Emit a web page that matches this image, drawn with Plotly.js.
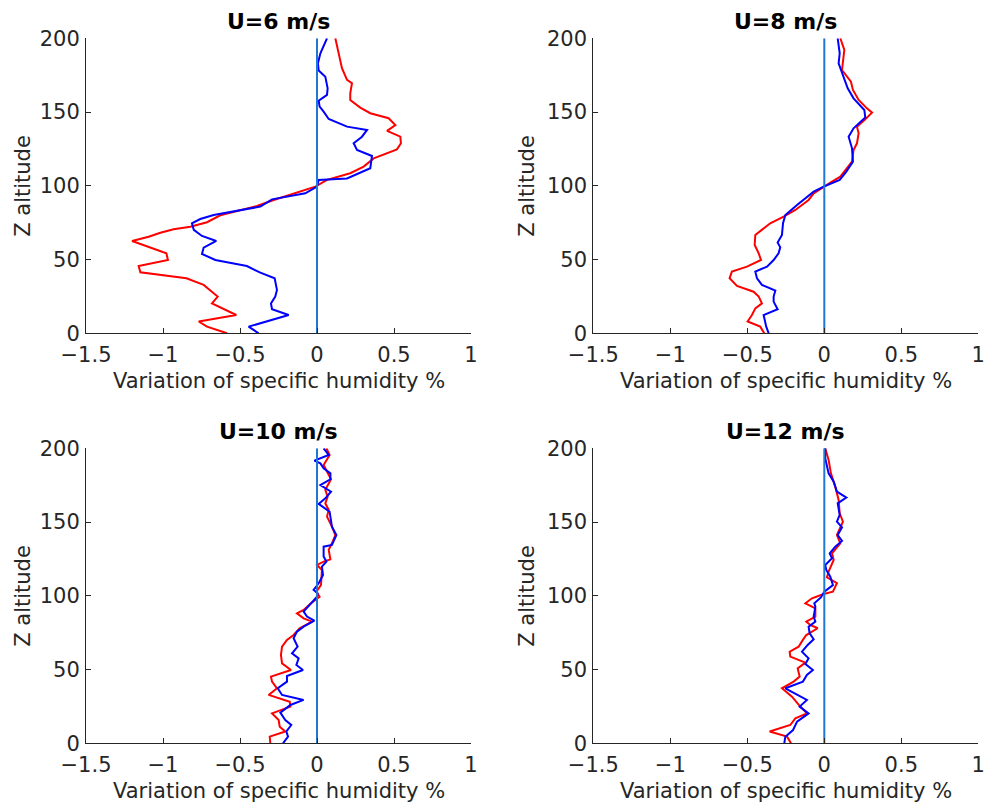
<!DOCTYPE html>
<html>
<head>
<meta charset="utf-8">
<script src="https://cdn.plot.ly/plotly-3.0.1.min.js"></script>
<style>html,body{margin:0;padding:0;background:#fff}#chart{width:987px;height:806px}</style>
</head>
<body>
<div id="chart"></div>
<script>
// ---------- data ----------
const panelTitles = ["U=6 m/s", "U=8 m/s", "U=10 m/s", "U=12 m/s"];
const xTickVals = [-1.5, -1, -0.5, 0, 0.5, 1];
const yTickVals = [0, 50, 100, 150, 200];
const xAxisLabel = "Variation of specific humidity %";
const yAxisLabel = "Z altitude";
const refX = [0, 0];
const refZ = [0, 200];

// U=6 m/s
const z6red = [0,4.5,8,12.4,20.3,24.9,32.8,37.3,41.4,45.6,49.7,54.2,62.6,65.5,68.2,70.5,72.3,75.3,80,86.3,90.4,94.9,99.4,104,108.5,113,118.6,124.7,128.8,133.3,137.2,141.2,145.8,149.2,153,158.2,162.7,169.5,171.8,179.7,187.6,193.2,200];
const x6red = [-0.584,-0.714,-0.768,-0.524,-0.682,-0.645,-0.736,-0.848,-1.147,-1.158,-0.968,-0.978,-1.201,-1.093,-1.017,-0.931,-0.823,-0.714,-0.628,-0.39,-0.281,-0.152,-0.011,0.065,0.216,0.303,0.368,0.519,0.545,0.541,0.455,0.509,0.465,0.346,0.281,0.216,0.216,0.227,0.195,0.162,0.147,0.134,0.119];
const z6blue = [0,4.5,12.4,16.3,20.3,24.9,29.4,37.3,41.1,45.6,48.1,49.7,53.8,58.1,62.6,66,70.1,74.6,77.5,80.2,85.9,90.8,94.9,99.4,104,105,111.9,120.2,124.3,128.8,133.3,137.9,140.1,145.3,150.3,153.7,157.7,161.6,166.1,174,178.1,183,189.8,200];
const x6blue = [-0.379,-0.444,-0.184,-0.292,-0.299,-0.271,-0.26,-0.275,-0.368,-0.455,-0.584,-0.66,-0.747,-0.736,-0.654,-0.747,-0.8,-0.812,-0.758,-0.671,-0.368,-0.292,-0.076,0,0.011,0.195,0.346,0.357,0.26,0.238,0.292,0.325,0.195,0.076,0.043,0.017,0.011,0.065,0.069,0.054,0.011,0.006,0.022,0.065];

// U=8 m/s
const z8red = [0,4.5,8,12.4,16.9,20.3,24.9,28.2,32.1,37.3,41.8,45.2,49.7,54.2,59.9,66.7,74.6,79.1,83.6,90.4,94.9,99.4,102.8,106.2,111.9,116.4,124.3,128.8,135.6,140.1,145.1,149.6,152.5,158.2,165,170.6,178.5,184.2,192.1,200];
const x8red = [-0.39,-0.416,-0.498,-0.47,-0.448,-0.405,-0.426,-0.459,-0.567,-0.615,-0.6,-0.502,-0.411,-0.426,-0.452,-0.448,-0.351,-0.264,-0.188,-0.102,-0.069,-0.004,0.05,0.104,0.147,0.18,0.19,0.212,0.223,0.212,0.266,0.31,0.277,0.223,0.186,0.173,0.115,0.121,0.13,0.104];
const z8blue = [0,4.5,12.4,16.3,21.5,24.9,28.9,32.8,37.3,41.8,45.2,49.7,54.2,58.3,61.5,66.7,74.6,80.2,87,92.7,96,99.4,104,109.6,116.4,125.4,133.3,139,142.4,146.4,151.4,159.3,166.1,174,183,189.8,200];
const x8blue = [-0.361,-0.377,-0.394,-0.303,-0.329,-0.329,-0.318,-0.405,-0.437,-0.448,-0.372,-0.329,-0.297,-0.286,-0.303,-0.275,-0.268,-0.253,-0.177,-0.113,-0.069,-0.004,0.1,0.143,0.186,0.18,0.158,0.19,0.223,0.266,0.26,0.19,0.152,0.126,0.093,0.1,0.087];

// U=10 m/s
const z10red = [0,4.5,8,11.3,15.8,20.3,24.9,28.2,32.8,37.3,41.8,45.2,49.7,54.2,59.9,65.5,70.1,73.4,78,82.5,84.7,88.1,90.4,94.9,99.4,102.8,107.3,113,117.5,120.9,123.2,124.7,131.1,135.6,141.2,146.9,153.7,158.2,162.7,167.2,171.8,179,184.2,188.7,195.5,200];
const x10red = [-0.303,-0.307,-0.206,-0.242,-0.249,-0.292,-0.173,-0.177,-0.314,-0.26,-0.292,-0.299,-0.169,-0.227,-0.234,-0.227,-0.195,-0.152,-0.113,-0.032,-0.087,-0.13,-0.087,-0.039,0.017,-0.004,0.026,0.032,0.032,0,0.043,0.087,0.076,0.097,0.119,0.097,0.065,0.076,0.054,0.069,0.054,0.091,0.065,0.043,0.082,0.061];
const z10blue = [0,4.5,8,12.4,15.8,20.8,26,29.4,32.8,37.3,41.8,45.6,49.7,53.1,57.6,61,65.5,71.2,75.7,79.1,83.2,85.9,89.3,93.8,99.4,101.7,104,108.5,114.1,119.8,123.2,126.6,133.3,134.5,141.2,146.9,157,162.3,166.1,170.6,175.1,179,183,186.4,189.8,191.6,195.5,200];
const x10blue = [-0.221,-0.188,-0.199,-0.167,-0.206,-0.238,-0.173,-0.087,-0.227,-0.255,-0.195,-0.195,-0.091,-0.134,-0.119,-0.162,-0.126,-0.152,-0.13,-0.087,-0.017,-0.065,-0.087,-0.048,0,0.004,-0.022,0.011,0.039,0.032,0.061,0.043,0.043,0.097,0.126,0.097,0.082,0.011,0.054,0.091,0.022,0.087,0.087,0.043,0.022,-0.017,0.076,0.043];

// U=12 m/s
const z12red = [0,4.5,8,12.4,16.9,20.3,24.9,31.6,37.3,41.8,45.2,50.8,54.7,58.8,62.1,65.5,70.1,73.4,78,80.2,82.5,85.9,91.5,94.9,98.3,101.2,102.8,108.5,112.5,116.4,124.3,128.8,135.6,141.2,150.3,155.9,165,174,183,192.1,200];
const x12red = [-0.216,-0.242,-0.355,-0.221,-0.188,-0.113,-0.156,-0.21,-0.275,-0.199,-0.16,-0.173,-0.123,-0.221,-0.225,-0.167,-0.139,-0.117,-0.043,-0.091,-0.117,-0.058,-0.058,-0.123,-0.08,-0.004,0.056,0.082,0.017,0.028,0.061,0.05,0.104,0.082,0.121,0.1,0.093,0.071,0.043,0.028,0.006];
const z12blue = [0,4.5,9,14.7,20.3,24.9,29.4,37.3,41.8,46.3,49.7,53.8,57.6,62.1,66.7,70.5,74.6,79.1,82.5,85.9,92.7,94.9,98.9,102.8,107.3,113,117.5,120.9,125.4,128.8,133.3,137.2,141.2,146.4,150.3,154.8,162.7,166.6,170.6,177.4,183,189.8,193.2,200];
const x12blue = [-0.26,-0.253,-0.203,-0.177,-0.102,-0.16,-0.113,-0.253,-0.139,-0.113,-0.074,-0.123,-0.102,-0.145,-0.108,-0.069,-0.095,-0.102,-0.058,-0.069,-0.058,-0.065,-0.022,0,0.056,0.039,0.013,0.006,0.05,0.035,0.071,0.115,0.087,0.115,0.082,0.1,0.087,0.143,0.082,0.061,0.028,0.013,0.006,0.006];

const redX = [x6red, x8red, x10red, x12red];
const redZ = [z6red, z8red, z10red, z12red];
const blueX = [x6blue, x8blue, x10blue, x12blue];
const blueZ = [z6blue, z8blue, z10blue, z12blue];

// ---------- layout ----------
const W = 987, H = 806;
const axColor = '#262626';
const fontFam = '"DejaVu Sans", "Liberation Sans", sans-serif';
const FS = 21;
const xDomPx = [[86, 471], [593.3, 978.3], [86, 471], [593.3, 978.3]];
const yDomPx = [[38.3, 333.3], [38.3, 333.3], [448.3, 743.3], [448.3, 743.3]];
const yLabelPx = [23, 527, 23, 527];

const traces = [];
const layout = {
  width: W, height: H,
  margin: {l: 0, r: 0, t: 0, b: 0, pad: 0},
  paper_bgcolor: '#ffffff', plot_bgcolor: '#ffffff',
  showlegend: false,
  font: {family: fontFam, size: FS, color: axColor},
  annotations: []
};

for (let i = 0; i < 4; i++) {
  const sfx = i === 0 ? '' : String(i + 1);
  const xa = 'x' + sfx, ya = 'y' + sfx;
  traces.push({x: redX[i], y: redZ[i], xaxis: xa, yaxis: ya, type: 'scatter', mode: 'lines',
               line: {color: '#ff0000', width: 2}, hoverinfo: 'skip'});
  traces.push({x: blueX[i], y: blueZ[i], xaxis: xa, yaxis: ya, type: 'scatter', mode: 'lines',
               line: {color: '#0000ff', width: 2}, hoverinfo: 'skip'});
  traces.push({x: refX, y: refZ, xaxis: xa, yaxis: ya, type: 'scatter', mode: 'lines',
               line: {color: '#1f78d1', width: 2}, hoverinfo: 'skip'});

  const xd = [xDomPx[i][0] / W, xDomPx[i][1] / W];
  const yd = [1 - yDomPx[i][1] / H, 1 - yDomPx[i][0] / H];
  layout['xaxis' + sfx] = {
    domain: xd, anchor: ya, range: [-1.5, 1], tickvals: xTickVals,
    showline: true, linecolor: axColor, linewidth: 1, mirror: false,
    ticks: 'inside', ticklen: 5, tickwidth: 1, tickcolor: axColor,
    ticklabelstandoff: 2,
    showgrid: false, zeroline: false, fixedrange: true,
    tickfont: {family: fontFam, size: FS, color: axColor}
  };
  layout['yaxis' + sfx] = {
    domain: yd, anchor: xa, range: [0, 200], tickvals: yTickVals,
    showline: true, linecolor: axColor, linewidth: 1, mirror: false,
    ticks: 'inside', ticklen: 5, tickwidth: 1, tickcolor: axColor,
    ticklabelstandoff: 1,
    showgrid: false, zeroline: false, fixedrange: true,
    tickfont: {family: fontFam, size: FS, color: axColor}
  };

  const cx = (xDomPx[i][0] + xDomPx[i][1]) / 2 / W;
  const cy = 1 - (yDomPx[i][0] + yDomPx[i][1]) / 2 / H;
  // panel title
  layout.annotations.push({
    text: '<b>' + panelTitles[i] + '</b>', xref: 'paper', yref: 'paper',
    x: cx, y: 1 - (yDomPx[i][0] - 17) / H, xanchor: 'center', yanchor: 'middle',
    showarrow: false, font: {family: fontFam, size: 22, color: '#000000'}
  });
  // x-axis label
  layout.annotations.push({
    text: xAxisLabel, xref: 'paper', yref: 'paper',
    x: cx, y: 1 - (yDomPx[i][1] + 48) / H, xanchor: 'center', yanchor: 'middle',
    showarrow: false, font: {family: fontFam, size: FS, color: axColor}
  });
  // y-axis label
  layout.annotations.push({
    text: yAxisLabel, xref: 'paper', yref: 'paper', textangle: -90,
    x: yLabelPx[i] / W, y: cy, xanchor: 'center', yanchor: 'middle',
    showarrow: false, font: {family: fontFam, size: FS, color: axColor}
  });
}

Plotly.newPlot('chart', traces, layout, {displayModeBar: false, staticPlot: true});
</script>
</body>
</html>
